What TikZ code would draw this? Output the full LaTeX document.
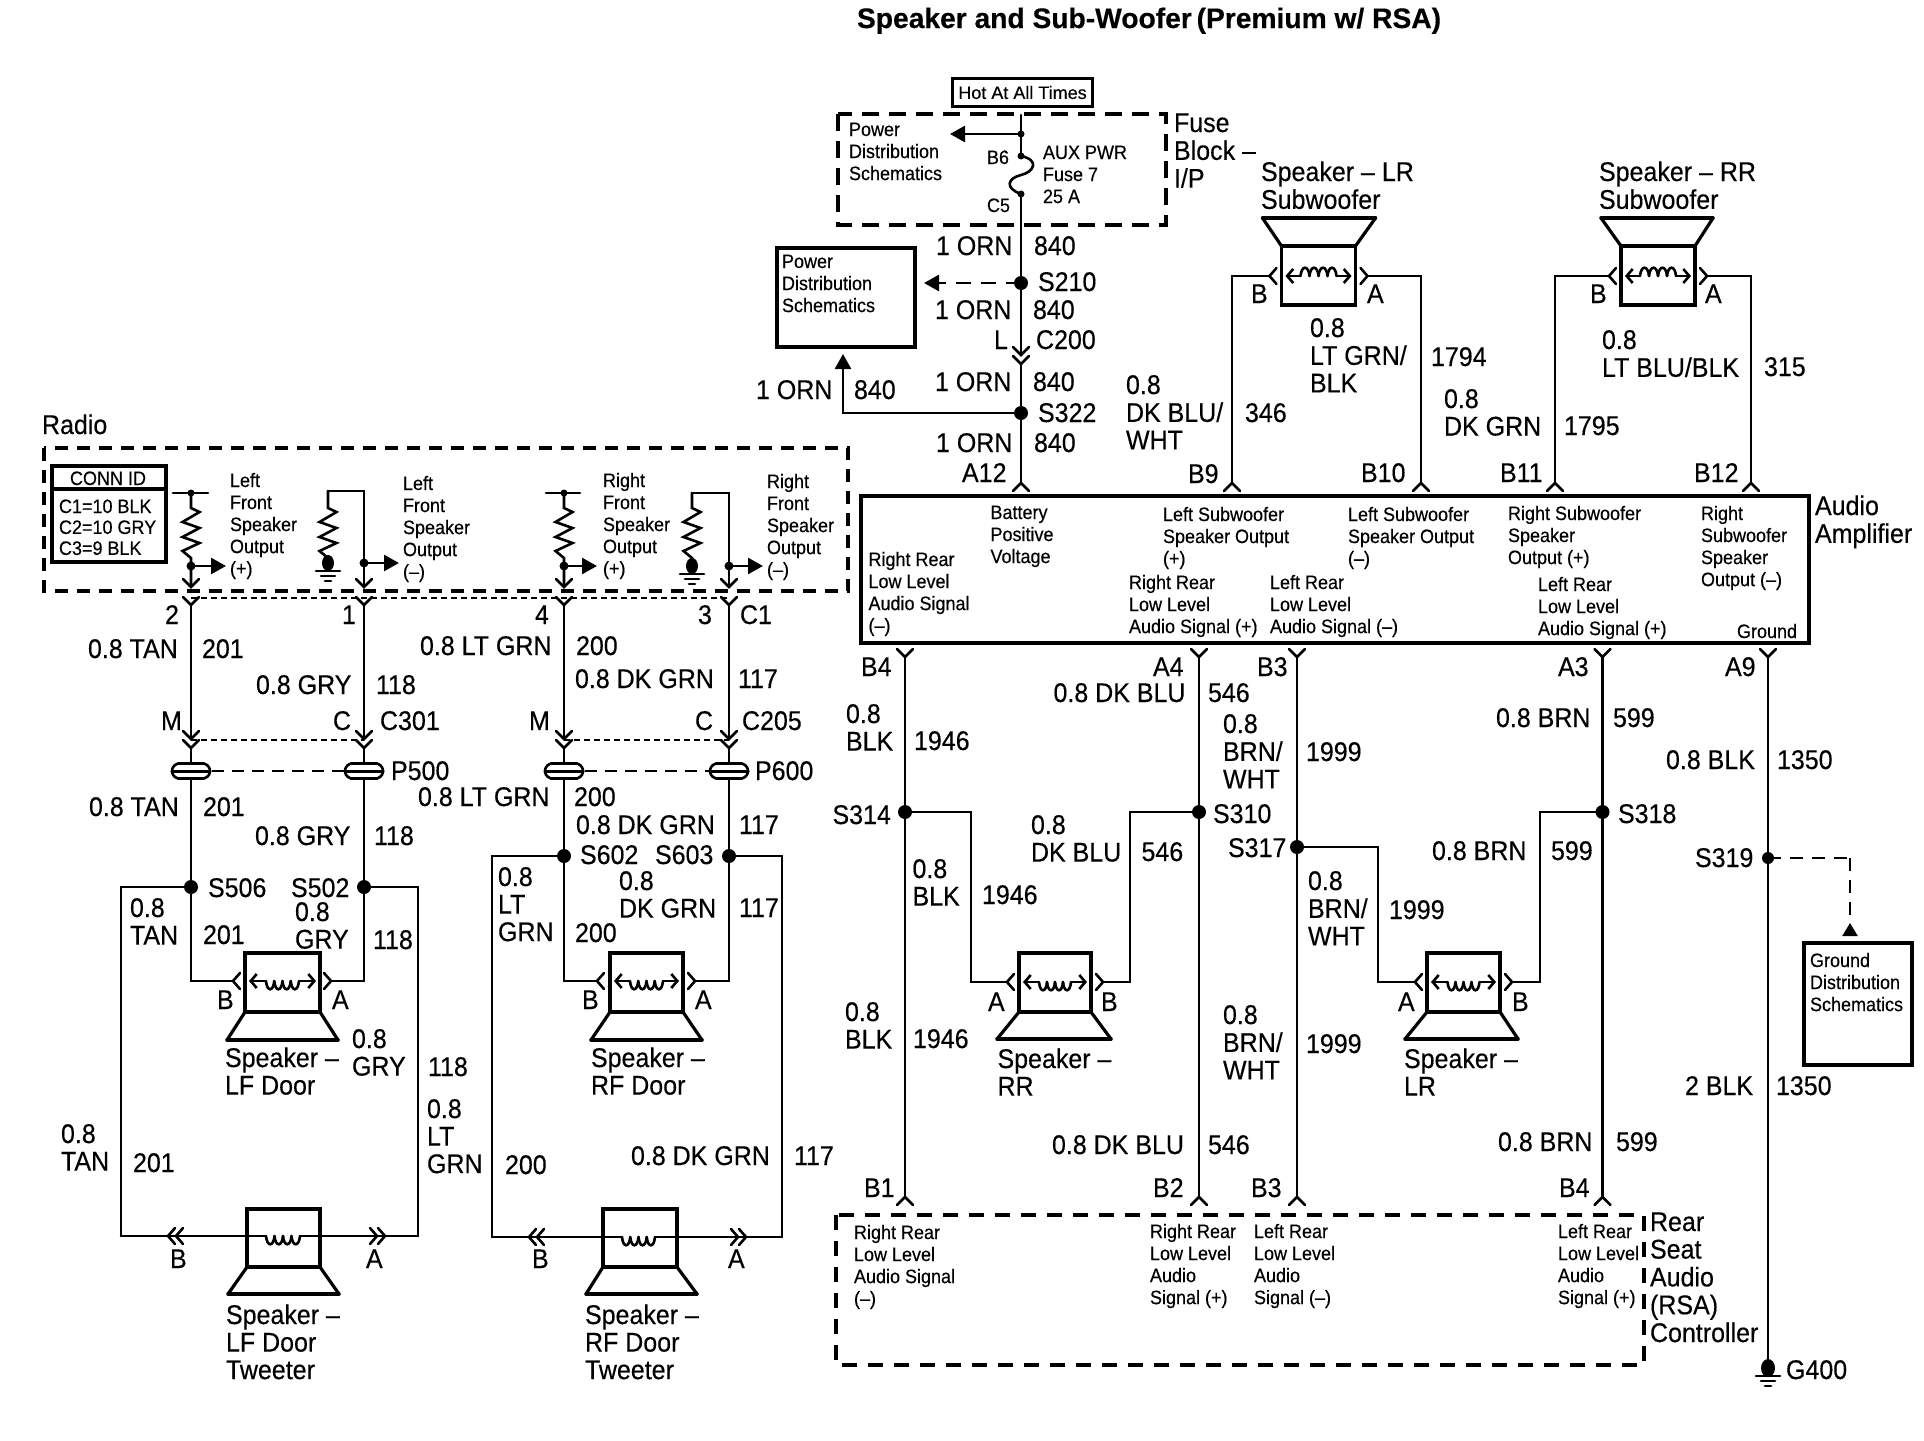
\documentclass[tikz,border=0pt]{standalone}
\usepackage{graphicx}
\usepackage{array}
\usepackage{fontspec}
\setmainfont[RawFeature={embolden=0.35}]{Liberation Sans}
\usetikzlibrary{arrows.meta,calc}
\newcounter{tc}
\newcommand\Tb[3]{\stepcounter{tc}\node[txt] (big\thetc) at (#1,#2+1) {\fontsize{25}{25.5}\selectfont\scalebox{1}[1.08]{\begin{tabular}[t]{@{}l@{}}#3\end{tabular}}};}
\newcommand\Ts[3]{\stepcounter{tc}\node[txt] (sm\thetc) at (#1,#2+1) {\fontsize{18}{20.4}\selectfont\scalebox{1}[1.08]{\begin{tabular}[t]{@{}l@{}}#3\end{tabular}}};}
\newcommand\Vd[2]{\draw[wire] (#1-8,#2-8) -- (#1,#2) -- (#1+8,#2-8);}
\newcommand\Vu[2]{\draw[wire] (#1-8,#2+8) -- (#1,#2) -- (#1+8,#2+8);}
\newcommand\Vl[2]{\draw[wire] (#1+7,#2-8) -- (#1,#2) -- (#1+7,#2+8);}
\newcommand\Vr[2]{\draw[wire] (#1-7,#2-8) -- (#1,#2) -- (#1-7,#2+8);}
% speaker: box x1 x2, far edge of the box, edge joined to the cone, cone x1 x2 y
\newcommand\Spk[7]{\draw[thick wire] (#1,#3) rectangle (#2,#4);
 \draw[line width=4.5pt] (#1-1.7,#4) -- (#2+1.7,#4);
 \draw[line width=3.5pt,line cap=round] (#5,#7) -- (#6,#7);
 \draw[line width=3.2pt,line cap=round] (#1,#4) -- (#5,#7) (#2,#4) -- (#6,#7);}
\newcommand\Coil[5]{\draw[wire,{Straight Barb[length=6pt,width=14pt]}-{Straight Barb[length=6pt,width=14pt]}] (#1,#3) -- (#2,#3);
 \pgfmathsetmacro\cw{(#5)/4}\pgfmathsetmacro\cs{(#1+#2)/2-(#5)/2}
 \fill[white] (\cs,#3-1.5) rectangle (\cs+#5,#3+1.5);
 \foreach \i in {0,1,2,3}{\pgfmathsetmacro\xa{\cs+\i*\cw}\draw[wire] (\xa,#3) .. controls (\xa+1,#3+#4) and (\xa+\cw-1,#3+#4) .. (\xa+\cw,#3);}}
\newcommand\Res[3]{\draw[wire,line join=miter] (#1,#2) -- (#1,508) -- (#1+8.5,512) -- (#1-8.5,522) -- (#1+8.5,528) -- (#1-8.5,537) -- (#1+8.5,543) -- (#1-8.5,551) -- (#1,558) -- (#1,#3);}
\newcommand\Gnd[2]{\draw[wire] (#1-12,#2) -- (#1+12,#2) (#1-7,#2+5) -- (#1+7,#2+5) (#1-3,#2+10) -- (#1+3,#2+10);}
\newcommand\Pc[2]{\draw[line width=2.6pt,fill=white] (#1-13,#2-7.5) -- (#1+13,#2-7.5) .. controls (#1+18,#2-6) and (#1+19,#2-2) .. (#1+19,#2) .. controls (#1+19,#2+2) and (#1+18,#2+6) .. (#1+13,#2+7.5) -- (#1-13,#2+7.5) .. controls (#1-18,#2+6) and (#1-19,#2+2) .. (#1-19,#2) .. controls (#1-19,#2-2) and (#1-18,#2-6) .. cycle;
 \draw[line width=3pt,line cap=round] (#1-19,#2) -- (#1+19,#2);}
\tikzset{
 txt/.style={anchor=base west,inner sep=0pt,outer sep=0pt,text=black},
 wire/.style={line width=2.6pt,line cap=round,line join=miter},
 thick wire/.style={line width=3.5pt,line join=miter},
 boxd/.style={line width=4pt,dash pattern=on 15pt off 9pt},
 short dash/.style={line width=1.4pt,dash pattern=on 6pt off 4pt},
 mid dash/.style={line width=2.6pt,dash pattern=on 12pt off 8pt},
 sp/.style={circle,fill=black,inner sep=0pt,minimum size=14pt},
 sd/.style={circle,fill=black,inner sep=0pt,minimum size=9pt},
 arr/.style={wire,line cap=butt,-{Triangle[length=15pt,width=16pt]}},
 darr/.style={line width=2.8pt,dash pattern=on 15pt off 10pt,-{Triangle[length=15pt,width=16pt]}},
}
\begin{document}
\begin{tikzpicture}[x=1pt,y=-1pt]
\useasboundingbox (0,0) rectangle (1924,1440);
\fill[white] (0,0) rectangle (1924,1440);
% Title
\node[txt] (title) at (857,28) {\fontsize{28.2}{30}\selectfont\bfseries Speaker and Sub-Woofer\kern-3pt\ (Premium w/ RSA)};
% ---------- Top power ----------
\node[draw,thick wire,minimum width=140pt,minimum height=28pt,inner sep=0pt,font=\fontsize{18}{20}\selectfont] (hot) at (1022.5,92.5) {Hot At All Times};
\draw[boxd,dash pattern=on 17pt off 10pt] (838,114) rectangle (1166,225);
\Tb{1174}{131}{Fuse\\Block --\\I/P}
\Ts{849}{135}{Power\\Distribution\\Schematics}
\Ts{987}{163}{B6}\Ts{987}{211}{C5}
\Ts{1043}{158}{AUX PWR\\Fuse 7\\25 A}
\coordinate (top) at (1021,115);
\node[sd,minimum size=7pt] (d1) at (1021,134) {};
\node[sd,minimum size=7pt] (b6) at (1021,156) {};
\node[sd,minimum size=7pt] (c5) at (1021,194) {};
\coordinate (pdarrow) at (950,134);
\draw[wire] (top) -- (b6.center);
\draw[arr] (d1.center) -- (pdarrow);
\draw[wire] (b6.center) .. controls (1040,160) and (1034,172) .. (1021,175) .. controls (1008,178) and (1004,188) .. (c5.center);
\coordinate (a12) at (1021,483);
\node[sp] (s210) at (1021,283) {};
\node[sp] (s322) at (1021,413) {};
\coordinate (c200a) at (1021,355);
\coordinate (c200b) at (1021,365);
\draw[wire] (c5.center) -- (c200a);
\draw[wire] (c200b) -- (a12);
\Vd{1021}{355}\Vd{1021}{364}
\Vu{1021}{483}
\node[draw,thick wire,minimum width=138pt,minimum height=99pt] (pd) at (846,297.5) {};
\Ts{782}{267}{Power\\Distribution\\Schematics}
\coordinate (s210t) at (924,283);
\draw[darr] (s210.center) -- (s210t);
\coordinate (s322t) at (843,354);
\draw[arr] (s322.center) -| (s322t);
\Tb{936}{254}{1 ORN}\Tb{1034}{254}{840}
\Tb{1038}{290}{S210}
\Tb{935}{318}{1 ORN}\Tb{1033}{318}{840}
\Tb{994}{348}{L}\Tb{1036}{348}{C200}
\Tb{935}{390}{1 ORN}\Tb{1033}{390}{840}
\Tb{756}{398}{1 ORN}\Tb{854}{398}{840}
\Tb{1038}{421}{S322}
\Tb{936}{451}{1 ORN}\Tb{1034}{451}{840}
\Tb{962}{481}{A12}
% ---------- Subwoofers ----------
\Tb{1261}{180}{Speaker -- LR\\Subwoofer}
\Tb{1599}{180}{Speaker -- RR\\Subwoofer}
\Spk{1281.5}{1355.5}{305}{246}{1262.5}{1375.5}{218}
\Spk{1621}{1695}{305}{246}{1601}{1713}{218}
\Coil{1285.5}{1351.5}{276}{-11}{36}
\Coil{1625}{1691}{276}{-11}{36}
\coordinate (lrb) at (1269.5,276);\coordinate (lra) at (1367.5,276);
\coordinate (rrb) at (1609,276);\coordinate (rra) at (1707,276);
\coordinate (b9) at (1232,483);\coordinate (b10) at (1421,483);
\coordinate (b11) at (1555,483);\coordinate (b12) at (1751,483);
\draw[wire] (lrb) -| (b9);
\draw[wire] (lra) -| (b10);
\draw[wire] (rrb) -| (b11);
\draw[wire] (rra) -| (b12);
\Vu{1232}{483}\Vu{1421}{483}\Vu{1555}{483}\Vu{1751}{483}
\Vl{1269.5}{276}\Vr{1367.5}{276}\Vl{1609}{276}\Vr{1707}{276}
\Tb{1251}{302}{B}\Tb{1367}{302}{A}\Tb{1590}{302}{B}\Tb{1705}{302}{A}
\Tb{1310}{336}{0.8\\LT GRN/\\BLK}\Tb{1431}{365}{1794}
\Tb{1126}{393}{0.8\\DK BLU/\\WHT}\Tb{1245}{421}{346}
\Tb{1444}{407}{0.8\\DK GRN}\Tb{1564}{434}{1795}
\Tb{1602}{348}{0.8\\LT BLU/BLK}\Tb{1764}{375}{315}
\Tb{1188}{482}{B9}\Tb{1361}{481}{B10}\Tb{1500}{481}{B11}\Tb{1694}{481}{B12}
% ---------- Amplifier ----------
\node[draw,thick wire,minimum width=948pt,minimum height=147pt,inner sep=0pt] (amp) at (1335,569.5) {};
\Tb{1815}{514}{Audio\\Amplifier}
\Ts{1163}{520}{Left Subwoofer\\Speaker Output\\(+)}
\Ts{1348}{520}{Left Subwoofer\\Speaker Output\\(--)}
\Ts{1508}{519}{Right Subwoofer\\Speaker\\Output (+)}
\Ts{1701}{519}{Right\\Subwoofer\\Speaker\\Output (--)}
\Ts{990.5}{518}{Battery\\Positive\\Voltage}
\Ts{868.5}{565}{Right Rear\\Low Level\\Audio Signal\\(--)}
\Ts{1129}{588}{Right Rear\\Low Level\\Audio Signal (+)}
\Ts{1270}{588}{Left Rear\\Low Level\\Audio Signal (--)}
\Ts{1538}{590}{Left Rear\\Low Level\\Audio Signal (+)}
\Ts{1737}{637}{Ground}
% ---------- Rear vertical wires ----------
\foreach \n/\x in {r1/905,r2/1199,r3/1297,r4/1602.5}{
 \coordinate (\n a) at (\x,657);
 \coordinate (\n b) at (\x,1197);
 \draw[wire] (\n a) -- (\n b);
 \Vd{\x}{657}\Vu{\x}{1197}}
\coordinate (r5a) at (1768,657);
\coordinate (g400top) at (1768,1368);
\draw[wire] (r5a) -- (g400top);
\Vd{1768}{657}
\fill (1768,1368) ellipse (7pt and 9pt);
\Gnd{1768}{1376}
\node[sp] (s314) at (905,812) {};
\node[sp] (s310) at (1199,812) {};
\node[sp] (s317) at (1297,847) {};
\node[sp] (s318) at (1602.5,812) {};
\node[sp,minimum size=12pt] (s319) at (1768,858) {};
\Spk{1019}{1091}{953}{1012}{997}{1111}{1039}
\Spk{1427}{1500}{953}{1012}{1405}{1518}{1039}
\Coil{1023}{1087}{982}{11}{32}
\Coil{1431}{1496}{982}{11}{32}
\coordinate (rra1) at (1007,982);\coordinate (rrb1) at (1103,982);
\coordinate (lra1) at (1415,982);\coordinate (lrb1) at (1512,982);
\coordinate (j1) at (971,812);\coordinate (j2) at (1130,812);
\coordinate (j3) at (1378,847);\coordinate (j4) at (1540,812);
\draw[wire] (s314.center) -- (j1) -- (j1 |- rra1) -- (rra1);
\draw[wire] (s310.center) -- (j2) -- (j2 |- rrb1) -- (rrb1);
\draw[wire] (s317.center) -- (j3) -- (j3 |- lra1) -- (lra1);
\draw[wire] (s318.center) -- (j4) -- (j4 |- lrb1) -- (lrb1);
\Vl{1007}{982}\Vr{1103}{982}\Vl{1415}{982}\Vr{1512}{982}
\Tb{988}{1010}{A}\Tb{1101}{1010}{B}\Tb{1398}{1010}{A}\Tb{1512}{1010}{B}
\Tb{997.5}{1067}{Speaker --\\RR}\Tb{1404}{1067}{Speaker --\\LR}
\Tb{861}{675}{B4}\Tb{1153}{675}{A4}\Tb{1257}{675}{B3}\Tb{1558}{675}{A3}\Tb{1725}{675}{A9}
\Tb{1053.5}{701}{0.8 DK BLU}\Tb{1208}{701}{546}
\Tb{846}{722}{0.8\\BLK}\Tb{914}{749}{1946}
\Tb{1223}{732}{0.8\\BRN/\\WHT}\Tb{1306}{760}{1999}
\Tb{1496}{726}{0.8 BRN}\Tb{1613}{726}{599}
\Tb{1666}{768}{0.8 BLK}\Tb{1777}{768}{1350}
\Tb{832.5}{823}{S314}\Tb{1213}{822}{S310}\Tb{1618}{822}{S318}
\Tb{1228}{856}{S317}\Tb{1695}{866}{S319}
\Tb{1031}{833}{0.8\\DK BLU}\Tb{1141.5}{860}{546}
\Tb{1432}{859}{0.8 BRN}\Tb{1551}{859}{599}
\Tb{912.5}{877}{0.8\\BLK}\Tb{982}{903}{1946}
\Tb{1308}{889}{0.8\\BRN/\\WHT}\Tb{1389}{918}{1999}
\Tb{845}{1020}{0.8\\BLK}\Tb{913}{1047}{1946}
\Tb{1223}{1023}{0.8\\BRN/\\WHT}\Tb{1306}{1052}{1999}
\Tb{1685}{1094}{2 BLK}\Tb{1776}{1094}{1350}
\Tb{1052}{1153}{0.8 DK BLU}\Tb{1208}{1153}{546}
\Tb{1498}{1150}{0.8 BRN}\Tb{1616}{1150}{599}
% ground dist
\node[draw,thick wire,minimum width=108pt,minimum height=122pt,inner sep=0pt] (gd) at (1858,1004) {};
\Ts{1810}{966}{Ground\\Distribution\\Schematics}
\coordinate (s319c) at (1850,858);\coordinate (s319t) at (1850,936);
\draw[line width=2.4pt,dash pattern=on 13pt off 9pt] (s319.center) -- (s319c);
\draw[line width=2.4pt,dash pattern=on 13pt off 9pt,-{Triangle[reversed,length=13pt,width=15pt]}] (s319c) -- (s319t);
% RSA
\draw[boxd,dash pattern=on 15pt off 11pt] (836,1215) rectangle (1644,1365);
\Tb{864}{1196}{B1}\Tb{1153}{1196}{B2}\Tb{1251}{1196}{B3}\Tb{1559}{1196}{B4}
\Ts{854}{1238}{Right Rear\\Low Level\\Audio Signal\\(--)}
\Ts{1150}{1237}{Right Rear\\Low Level\\Audio\\Signal (+)}
\Ts{1254}{1237}{Left Rear\\Low Level\\Audio\\Signal (--)}
\Ts{1558}{1237}{Left Rear\\Low Level\\Audio\\Signal (+)}
\Tb{1650}{1230}{Rear\\Seat\\Audio\\(RSA)\\Controller}
\Tb{1786}{1378}{G400}
% ---------- Radio ----------
\Tb{42}{433}{Radio}
\draw[boxd,dash pattern=on 13pt off 9pt] (44,448) rectangle (848,591);
\node[draw,thick wire,minimum width=114pt,minimum height=96pt,inner sep=0pt] (conn) at (109,514) {};
\coordinate (connl) at (52,489);\coordinate (connr) at (166,489);
\draw[thick wire] (connl) -- (connr);
\Ts{70}{484}{CONN ID}
\Ts{59}{512}{C1=10 BLK\\[-1pt]C2=10 GRY\\[-1pt]C3=9 BLK}
\Ts{230}{486}{Left\\Front\\Speaker\\Output\\(+)}
\Ts{403}{489}{Left\\Front\\Speaker\\Output\\(--)}
\Ts{603}{486}{Right\\Front\\Speaker\\Output\\(+)}
\Ts{767}{487}{Right\\Front\\Speaker\\Output\\(--)}
% tee resistors
\draw[wire] (173,493) -- (208,493) (546,493) -- (580,493);
\Res{191}{493}{586}\Res{564}{493}{586}
\Res{328}{491}{560}\Res{692}{493}{560}
\coordinate (r1a) at (328,491);\coordinate (r1b) at (364,491);
\coordinate (r3a) at (692,493);\coordinate (r3b) at (729,493);
\draw[wire] (r1a) -- (r1b) -- (364,586);
\draw[wire] (r3a) -- (r3b) -- (729,586);
\fill (191,493) circle[radius=3.5pt];\fill (564,493) circle[radius=3.5pt];
\fill (328,563) ellipse (6pt and 8pt);\fill (692,566) ellipse (6pt and 8pt);
\Gnd{328}{571}\Gnd{692}{574}
\node[sd] (o1) at (191,566) {};\node[sd] (o2) at (364,563) {};\node[sd] (o3) at (564,566) {};\node[sd] (o4) at (729,566) {};
\coordinate (o1t) at (226,566);\coordinate (o2t) at (399,563);\coordinate (o3t) at (597,566);\coordinate (o4t) at (763,566);
\draw[arr] (o1.center) -- (o1t);\draw[arr] (o2.center) -- (o2t);\draw[arr] (o3.center) -- (o3t);\draw[arr] (o4.center) -- (o4t);
\foreach \x in {191,364,564,729}{\Vd{\x}{587}\Vd{\x}{605}\Vd{\x}{739}\Vd{\x}{748}}
\draw[short dash] (191,598) -- (729,598);
\draw[short dash] (191,740) -- (364,740) (564,740) -- (729,740);
\foreach \n/\x in {w1/191,w2/364,w3/564,w4/729}{
 \coordinate (\n a) at (\x,605);\coordinate (\n b) at (\x,739);\coordinate (\n c) at (\x,748);\coordinate (\n d) at (\x,981);
 \draw[wire] (\n a) -- (\n b);\draw[wire] (\n c) -- (\n d);
 \Pc{\x}{771}}
\draw[mid dash] (212,771) -- (345,771) (585,771) -- (710,771);
\node[sp] (s506) at (191,887) {};\node[sp] (s502) at (364,887) {};
\node[sp] (s602) at (564,856) {};\node[sp] (s603) at (729,856) {};
% door speakers
\Spk{245}{320}{953}{1012}{227}{338}{1040}
\Spk{610}{683}{953}{1012}{591}{702}{1040}
\Coil{249}{316}{981}{11}{33}
\Coil{614}{679}{981}{11}{33}
\coordinate (lfb) at (233,981);\coordinate (lfa) at (331,981);
\coordinate (rfb) at (597,981);\coordinate (rfa) at (695,981);
\draw[wire] (w1d) -- (lfb);\draw[wire] (w2d) -- (lfa);
\draw[wire] (w3d) -- (rfb);\draw[wire] (w4d) -- (rfa);
\Vl{233}{981}\Vr{331}{981}\Vl{597}{981}\Vr{695}{981}
% tweeters
\Spk{247}{320}{1209}{1267}{228}{339}{1294}
\Spk{603}{677}{1209}{1267}{586}{697}{1294}
\coordinate (twl1) at (121,1236);\coordinate (twr1) at (418,1236);
\coordinate (twl2) at (492,1237);\coordinate (twr2) at (782,1237);
\draw[wire] (s506.center) -| (twl1);
\draw[wire] (s502.center) -| (twr1);
\draw[wire] (s602.center) -| (twl2);
\draw[wire] (s603.center) -| (twr2);
\draw[wire] (twl1) -- (266,1236) (300,1236) -- (twr1);
\draw[wire] (twl2) -- (622,1237) (655,1237) -- (twr2);
\foreach \i in {0,1,2,3}{
 \pgfmathsetmacro\xa{266+\i*8.5}\draw[wire] (\xa,1236) .. controls (\xa+1,1247) and (\xa+7.5,1247) .. (\xa+8.5,1236);
 \pgfmathsetmacro\xb{622+\i*8.25}\draw[wire] (\xb,1237) .. controls (\xb+1,1248) and (\xb+7.25,1248) .. (\xb+8.25,1237);}
\foreach \x/\y in {168/1236,176/1236,529/1237,537/1237}{\Vl{\x}{\y}}
\foreach \x/\y in {377/1236,385/1236,738/1237,746/1237}{\Vr{\x}{\y}}
% labels left
\Tb{165}{623}{2}\Tb{342}{623}{1}\Tb{535}{623}{4}\Tb{698}{623}{3}\Tb{740}{623}{C1}
\Tb{88}{657}{0.8 TAN}\Tb{202}{657}{201}
\Tb{256}{693}{0.8 GRY}\Tb{376}{693}{118}
\Tb{420}{654}{0.8 LT GRN}\Tb{576}{654}{200}
\Tb{575}{687}{0.8 DK GRN}\Tb{738}{687}{117}
\Tb{161}{729}{M}\Tb{333}{729}{C}\Tb{380}{729}{C301}
\Tb{529}{729}{M}\Tb{695}{729}{C}\Tb{742}{729}{C205}
\Tb{391}{779}{P500}\Tb{755}{779}{P600}
\Tb{89}{815}{0.8 TAN}\Tb{203}{815}{201}
\Tb{255}{844}{0.8 GRY}\Tb{374}{844}{118}
\Tb{418}{805}{0.8 LT GRN}\Tb{574}{805}{200}
\Tb{576}{833}{0.8 DK GRN}\Tb{739}{833}{117}
\Tb{580}{863}{S602}\Tb{655}{863}{S603}
\Tb{208}{896}{S506}\Tb{291}{896}{S502}
\Tb{130}{916}{0.8\\TAN}\Tb{203}{943}{201}
\Tb{295}{920}{0.8\\GRY}\Tb{373}{948}{118}
\Tb{619}{889}{0.8\\DK GRN}\Tb{739}{916}{117}
\Tb{498}{885}{0.8\\LT\\GRN}\Tb{575}{941}{200}
\Tb{217}{1008}{B}\Tb{332}{1008}{A}\Tb{582}{1008}{B}\Tb{695}{1008}{A}
\Tb{225}{1066}{Speaker --\\LF Door}\Tb{591}{1066}{Speaker --\\RF Door}
\Tb{352}{1047}{0.8\\GRY}\Tb{428}{1075}{118}
\Tb{427}{1117}{0.8\\LT\\GRN}\Tb{505}{1173}{200}
\Tb{61}{1142}{0.8\\TAN}\Tb{133}{1171}{201}
\Tb{631}{1164}{0.8 DK GRN}\Tb{794}{1164}{117}
\Tb{170}{1267}{B}\Tb{366}{1267}{A}\Tb{532}{1267}{B}\Tb{728}{1267}{A}
\Tb{226}{1323}{Speaker --\\LF Door\\Tweeter}
\Tb{585}{1323}{Speaker --\\RF Door\\Tweeter}
\end{tikzpicture}
\end{document}
